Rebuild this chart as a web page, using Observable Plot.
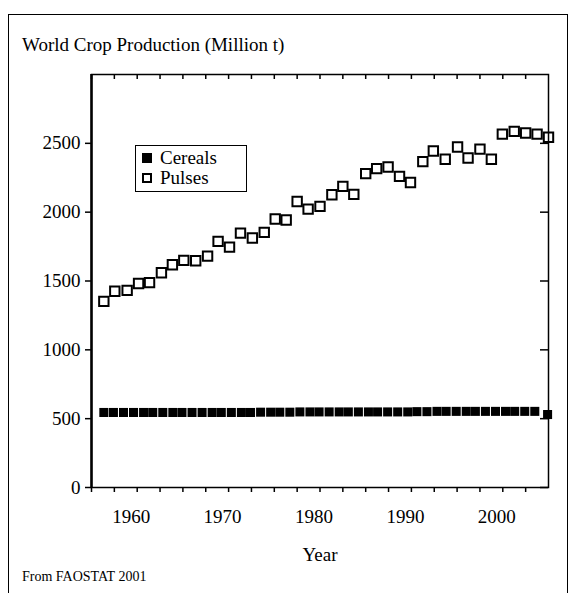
<!DOCTYPE html>
<html>
<head>
<meta charset="utf-8">
<script src="https://cdn.jsdelivr.net/npm/d3@7"></script>
<script src="https://cdn.jsdelivr.net/npm/@observablehq/plot@0.6"></script>
<style>
  html, body { margin: 0; padding: 0; background: #fff; }
  #wrap { position: relative; width: 580px; height: 593px; overflow: hidden; font-family: "Liberation Serif", "DejaVu Serif", serif; color: #000; }
  #box { position: absolute; left: 8px; top: 14px; width: 558px; height: 600px; border: 1.5px solid #000; border-bottom: none; }
  #title { position: absolute; left: 22px; top: 34px; font-size: 19px; }
  #caption { position: absolute; left: 22px; top: 569px; font-size: 14px; }
  #legend { position: absolute; left: 135px; top: 145px; width: 110px; height: 45px; border: 1.5px solid #000; background: #fff; font-size: 19px; }
  .row { position: absolute; left: 6px; display: flex; align-items: center; line-height: 20px; }
  .sw { display: inline-block; width: 10px; height: 10px; margin-right: 8px; box-sizing: border-box; }
  #plot { position: absolute; left: 0; top: 0; }
</style>
</head>
<body>
<div id="wrap">
  <div id="box"></div>
  <div id="plot"></div>
  <div id="title">World Crop Production (Million t)</div>
  <div id="legend">
    <div class="row" style="top:2px"><span class="sw" style="background:#000"></span><span>Cereals</span></div>
    <div class="row" style="top:22px"><span class="sw" style="border:2px solid #000;background:#fff"></span><span>Pulses</span></div>
  </div>
  <div id="caption">From FAOSTAT 2001</div>
</div>
<script>
// Cereals (filled squares)
const cerealYears = [1956.35, 1957.4, 1958.5, 1959.6, 1960.7, 1961.7, 1962.8, 1963.9, 1964.9, 1966.0,
  1967.1, 1968.2, 1969.2, 1970.3, 1971.4, 1972.4, 1973.5, 1974.6, 1975.6, 1976.7,
  1977.8, 1978.9, 1979.9, 1981.0, 1982.1, 1983.1, 1984.2, 1985.3, 1986.3, 1987.4,
  1988.5, 1989.6, 1990.6, 1991.7, 1992.8, 1993.8, 1994.9, 1996.0, 1997.0, 1998.1,
  1999.2, 2000.3, 2001.3, 2002.4, 2003.5, 2004.9];
const cerealValues = [545, 545, 545, 545, 545, 545, 545, 545, 545, 545,
  545, 545, 545, 545, 545, 545, 547, 547, 547, 547,
  549, 549, 549, 549, 549, 549, 549, 549, 549, 549,
  549, 549, 551, 551, 553, 553, 553, 553, 553, 553,
  553, 553, 553, 553, 553, 530];

// Pulses (open squares)
const pulseYears = [1956.35, 1957.55, 1958.9, 1960.15, 1961.35, 1962.65, 1963.85, 1965.1, 1966.4, 1967.7,
  1968.85, 1970.1, 1971.3, 1972.6, 1973.9, 1975.1, 1976.3, 1977.5, 1978.7, 1980.0,
  1981.3, 1982.5, 1983.7, 1985.0, 1986.2, 1987.45, 1988.7, 1989.9, 1991.25, 1992.4,
  1993.7, 1995.05, 1996.2, 1997.5, 1998.75, 1999.95, 2001.25, 2002.5, 2003.75, 2005.0];
const pulseValues = [1352, 1426, 1432, 1482, 1488, 1560, 1618, 1650, 1647, 1681,
  1788, 1746, 1848, 1812, 1853, 1950, 1943, 2078, 2022, 2042,
  2127, 2187, 2129, 2280, 2316, 2328, 2260, 2216, 2367, 2444,
  2384, 2473, 2393, 2458, 2384, 2567, 2587, 2575, 2567, 2544];

// Axes
const xTickValues = [1955, 1957.5, 1960, 1962.5, 1965, 1967.5, 1970, 1972.5, 1975, 1977.5, 1980,
  1982.5, 1985, 1987.5, 1990, 1992.5, 1995, 1997.5, 2000, 2002.5];
const xLabelValues = [1960, 1970, 1980, 1990, 2000];
const yTickValues = [0, 500, 1000, 1500, 2000, 2500];
const xLabel = "Year";

const cereals = cerealYears.map((x, i) => ({x, y: cerealValues[i]}));
const pulses = pulseYears.map((x, i) => ({x, y: pulseValues[i]}));

const W = 580, H = 593, mL = 91, mR = 32, mT = 74, mB = 106;
const plotW = W - mL - mR, plotH = H - mT - mB;

const chart = Plot.plot({
  width: W, height: H,
  marginLeft: mL, marginRight: mR, marginTop: mT, marginBottom: mB,
  style: {fontFamily: "Liberation Serif, serif", fontSize: "19px", color: "#000", background: "transparent"},
  x: {domain: [1955, 2005]},
  y: {domain: [0, 3000]},
  marks: [
    Plot.dot(pulses, {x: "x", y: "y", symbol: "square", r: 5.3, fill: "white", stroke: "black", strokeWidth: 2}),
    Plot.dot(cereals, {x: "x", y: "y", symbol: "square", r: 5.1, fill: "black", stroke: "none"}),
    Plot.frame({stroke: "black", strokeWidth: 1.5}),
    Plot.ruleX([1955], {stroke: "black", strokeWidth: 2.5}),
    // bottom axis: outward ticks + labels
    Plot.axisX({ticks: xTickValues, tickSize: 5, tickFormat: () => "", strokeWidth: 1.5, label: null}),
    Plot.axisX({ticks: xLabelValues, tickSize: 0, tickPadding: 22, dx: -6, tickFormat: d => String(d), fontSize: 19, label: null}),
    // top inward ticks
    Plot.tickX(xTickValues, {x: d => d, insetBottom: plotH - 5, stroke: "black", strokeWidth: 1.5}),
    // left axis
    Plot.axisY({ticks: yTickValues, tickSize: 6, tickPadding: 5, tickFormat: d => String(d), fontSize: 19, strokeWidth: 1.5, label: null}),
    // right inward ticks
    Plot.tickY(yTickValues, {y: d => d, insetLeft: plotW - 8, stroke: "black", strokeWidth: 1.5}),
    Plot.text([xLabel], {frameAnchor: "bottom", dy: 73, fontSize: 19, text: d => d})
  ]
});
document.getElementById("plot").appendChild(chart);
</script>
</body>
</html>
